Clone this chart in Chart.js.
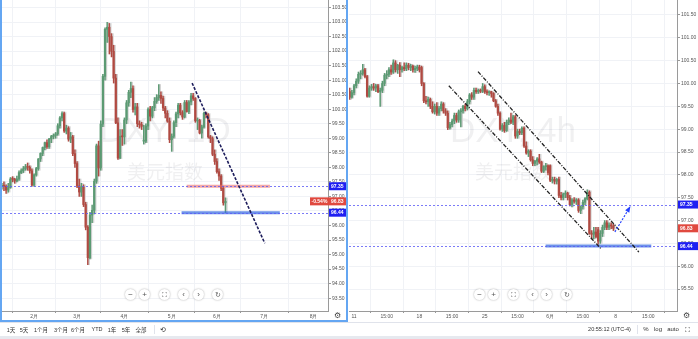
<!DOCTYPE html>
<html><head><meta charset="utf-8">
<script src="https://cdn.jsdelivr.net/npm/chart.js@4.4.1/dist/chart.umd.min.js"></script>
<style>
html,body{margin:0;padding:0;background:#fff;width:698px;height:339px;overflow:hidden;font-family:"Liberation Sans",Arial,sans-serif;}
canvas{position:absolute;top:0;}
#lc{left:2px;}
#rc{left:349px;}
.bd{position:absolute;background:#64a6f2;}
.nb{position:absolute;width:11px;height:11px;border-radius:50%;background:#fff;box-shadow:0 0 2px rgba(0,0,0,0.35);color:#555;font-size:8px;line-height:11px;text-align:center;}
.tb{position:absolute;top:326px;font-size:5.5px;color:#333;white-space:nowrap;transform:translateX(-50%);font-family:"Liberation Sans","Noto Sans CJK SC",sans-serif;}
#toolbar{position:absolute;left:0;top:322px;width:698px;height:14px;border-top:1px solid #e0e3eb;background:#fff;}
#bottomband{position:absolute;left:0;top:336px;width:698px;height:3px;background:#e6e9ef;}
.gear{position:absolute;font-size:8px;color:#444;font-family:"DejaVu Sans";}
.sep{position:absolute;top:325px;width:1px;height:9px;background:#e0e3eb;}
</style>
</head><body>
<canvas id="lc" width="344" height="320"></canvas>
<canvas id="rc" width="349" height="320"></canvas>
<div class="bd" style="left:0;top:0;width:1.5px;height:321px"></div>
<div class="bd" style="left:346px;top:0;width:2px;height:321px"></div>
<div class="bd" style="left:0;top:320px;width:348px;height:1.5px"></div>
<div class="gear" style="left:334px;top:311px">⚙</div>
<div class="gear" style="left:683px;top:311px">⚙</div>

<div class="nb" style="left:125px;top:288.5px">−</div>
<div class="nb" style="left:139px;top:288.5px">+</div>
<div class="nb" style="left:158.5px;top:288.5px;font-size:7px">⛶</div>
<div class="nb" style="left:178px;top:288.5px">‹</div>
<div class="nb" style="left:193px;top:288.5px">›</div>
<div class="nb" style="left:212px;top:288.5px;font-size:7px">↻</div>

<div class="nb" style="left:474px;top:288.5px">−</div>
<div class="nb" style="left:488px;top:288.5px">+</div>
<div class="nb" style="left:508px;top:288.5px;font-size:7px">⛶</div>
<div class="nb" style="left:527px;top:288.5px">‹</div>
<div class="nb" style="left:541px;top:288.5px">›</div>
<div class="nb" style="left:561px;top:288.5px;font-size:7px">↻</div>

<div id="toolbar"></div>
<div id="bottomband"></div>
<div class="tb" style="left:11px">1天</div>
<div class="tb" style="left:24px">5天</div>
<div class="tb" style="left:41px">1个月</div>
<div class="tb" style="left:61px">3个月</div>
<div class="tb" style="left:78px">6个月</div>
<div class="tb" style="left:97px">YTD</div>
<div class="tb" style="left:112px">1年</div>
<div class="tb" style="left:126px">5年</div>
<div class="tb" style="left:141px">全部</div>
<div class="sep" style="left:154px"></div>
<div class="tb" style="left:163px;font-size:7px;font-family:'DejaVu Sans'">⟲</div>
<div class="tb" style="left:609.5px">20:55:12 (UTC-4)</div>
<div class="sep" style="left:637px"></div>
<div class="tb" style="left:646px;font-size:6px">%</div>
<div class="tb" style="left:658px;font-size:6px">log</div>
<div class="tb" style="left:673px;font-size:6px">auto</div>
<div class="tb" style="left:687px;font-size:7px;font-family:'DejaVu Sans'">⛶</div>

<script>
// ---------- LEFT: DXY daily (from 2020-01-13) ----------
const leftStart = '2020-01-13';
const leftOpen  = [97.35,97.37,97.35,97.22,97.30,97.60,97.59,97.53,97.60,97.82,97.88,97.95,98.02,98.00,97.88,
  97.39,97.74,97.96,98.29,98.48,98.68,98.85,98.71,98.98,99.06,99.09,99.15,99.43,99.70,99.85,99.25,99.35,98.97,99.05,98.47,
  98.13,97.36,97.15,97.33,96.72,95.94,94.89,96.36,96.52,97.52,98.74,97.98,99.49,101.13,102.75,102.82,102.50,101.99,101.07,99.53,98.32,99.07,
  99.05,99.63,100.22,100.58,100.71,99.99,100.08,99.50,99.47,98.90,98.90,99.42,99.99,99.76,100.05,100.27,100.40,100.48,100.37,100.04,99.86,99.59,
  98.95,99.07,99.54,99.84,100.14,99.88,99.73,100.23,99.92,100.25,100.46,100.37,99.60,99.61,99.18,99.39,99.86,99.81,99.05,98.99,98.45,
  98.20,97.85,97.70,97.28,96.78];
const leftHigh  = [97.45,97.50,97.40,97.45,97.65,97.68,97.62,97.70,97.88,97.95,98.03,98.10,98.15,98.05,97.95,
  97.78,98.00,98.30,98.50,98.70,98.87,98.95,99.00,99.10,99.15,99.20,99.50,99.75,99.91,99.90,99.45,99.40,99.20,99.10,98.60,
  98.20,97.60,97.45,97.40,96.80,96.00,96.45,96.70,97.60,98.80,98.90,99.60,101.20,102.80,102.99,102.95,102.60,102.20,101.20,99.70,99.30,99.30,
  99.70,100.30,100.65,100.93,100.80,100.20,100.20,99.60,99.55,99.45,99.50,100.05,100.10,100.10,100.40,100.50,100.85,100.60,100.45,100.10,99.95,99.70,
  99.15,99.60,99.90,100.20,100.20,99.95,100.30,100.30,100.30,100.55,100.55,100.40,99.70,99.65,99.45,99.90,99.90,99.85,99.10,99.05,98.60,
  98.30,97.95,97.75,97.35,96.95];
const leftLow   = [97.25,97.20,97.10,97.15,97.28,97.50,97.45,97.50,97.55,97.78,97.82,97.90,97.90,97.80,97.35,
  97.35,97.70,97.90,98.20,98.40,98.60,98.65,98.65,98.85,98.98,99.00,99.10,99.35,99.60,99.20,99.15,98.90,98.85,98.40,98.00,
  97.30,97.00,97.00,96.65,95.85,94.65,94.85,96.10,96.40,97.45,97.70,97.90,99.40,101.00,102.30,101.90,101.80,100.90,99.50,98.27,98.30,98.75,
  98.80,99.50,100.10,100.40,99.90,99.80,99.40,99.35,99.30,98.80,98.85,99.30,99.60,99.70,99.95,100.20,100.30,100.20,99.95,99.70,99.55,98.85,
  98.55,99.00,99.40,99.70,99.80,99.65,99.70,99.90,99.85,100.15,100.30,99.55,99.30,99.15,99.00,99.35,99.70,99.00,98.85,98.40,98.10,
  97.80,97.55,97.20,96.70,96.44];
const leftClose = [97.37,97.35,97.22,97.30,97.60,97.59,97.53,97.60,97.82,97.88,97.95,98.02,98.00,97.88,97.39,
  97.74,97.96,98.29,98.48,98.68,98.85,98.71,98.98,99.06,99.09,99.15,99.43,99.70,99.85,99.25,99.35,98.97,99.05,98.47,98.13,
  97.36,97.15,97.33,96.72,95.94,94.89,96.36,96.52,97.52,98.74,97.98,99.49,101.13,102.75,102.82,102.50,101.99,101.07,99.53,98.32,99.07,99.05,
  99.63,100.22,100.58,100.71,99.99,100.08,99.50,99.47,99.41,98.90,99.42,99.99,99.76,100.05,100.27,100.40,100.48,100.37,100.04,99.86,99.59,98.95,
  99.07,99.54,99.84,100.14,99.88,99.73,100.23,99.92,100.25,100.46,100.37,99.60,99.61,99.18,99.39,99.86,99.81,99.05,98.99,98.45,98.20,
  97.85,97.70,97.28,96.78,96.83];
const leftMonthLabels = ['2月','3月','4月','5月','6月','7月','8月'];
const leftTrendLine = [[88.5,100.9],[122.3,95.39]];
const leftRedLevel  = [86,124.7,97.35];
const leftBlueLevel = [83.6,129.3,96.44];

// ---------- RIGHT: DXY 4h ----------
const rightOpen  = [99.82,99.70,99.80,99.95,100.05,100.20,100.22,100.30,100.15,99.72,99.90,99.93,99.90,99.95,99.82,99.85,100.00,100.18,100.20,100.30,
  100.25,100.45,100.30,100.40,100.30,100.35,100.32,100.40,100.35,100.38,100.30,100.33,100.36,100.35,100.00,99.62,99.60,99.65,99.50,99.38,
  99.50,99.35,99.45,99.55,99.40,99.35,99.03,99.10,99.18,99.30,99.20,99.38,99.40,99.50,99.45,99.60,99.75,99.70,99.85,99.82,
  99.85,99.83,99.93,99.82,99.80,99.82,99.78,99.62,99.50,99.35,99.00,99.08,98.97,99.15,99.20,99.15,99.27,98.85,98.95,98.92,
  99.02,98.63,98.48,98.52,98.33,98.25,98.30,98.35,98.28,98.08,98.18,98.20,98.20,97.88,97.90,97.86,97.90,97.55,97.50,97.58,
  97.60,97.50,97.35,97.45,97.42,97.45,97.22,97.30,97.40,97.48,97.62,96.72,96.70,96.75,96.80,96.55,96.72,96.85,96.95,96.85,
  96.90,96.88];
const rightHigh  = [99.90,99.85,99.98,100.10,100.25,100.28,100.42,100.33,100.18,99.95,99.98,100.00,99.98,99.98,99.90,100.05,100.22,100.28,100.35,100.40,
  100.52,100.50,100.42,100.46,100.38,100.45,100.45,100.44,100.42,100.40,100.38,100.40,100.40,100.38,100.02,99.72,99.70,99.68,99.60,99.55,
  99.58,99.50,99.60,99.58,99.45,99.40,99.15,99.22,99.35,99.35,99.42,99.45,99.52,99.55,99.65,99.78,99.80,99.90,99.90,99.88,
  99.88,100.00,99.97,99.86,99.84,99.83,99.80,99.65,99.55,99.38,99.12,99.15,99.20,99.25,99.35,99.30,99.30,99.00,99.00,99.05,
  99.05,98.72,98.55,98.55,98.40,98.32,98.38,98.45,98.30,98.20,98.25,98.22,98.22,97.95,97.95,97.92,97.95,97.62,97.60,97.65,
  97.62,97.55,97.48,97.50,97.48,97.48,97.32,97.45,97.50,97.67,97.65,96.78,96.85,96.85,96.85,96.78,96.90,97.00,97.00,96.95,
  96.95,96.92];
const rightLow   = [99.65,99.68,99.75,99.90,100.00,100.10,100.18,100.12,99.70,99.70,99.85,99.85,99.82,99.80,99.50,99.80,99.95,100.10,100.15,100.20,
  100.22,100.25,100.22,100.15,100.25,100.28,100.28,100.30,100.28,100.25,100.24,100.28,100.25,99.95,99.58,99.55,99.50,99.45,99.35,99.33,
  99.30,99.30,99.40,99.35,99.30,98.99,99.00,99.05,99.12,99.15,99.15,99.05,99.35,99.40,99.42,99.55,99.65,99.65,99.78,99.78,
  99.80,99.80,99.78,99.75,99.74,99.70,99.60,99.48,99.30,98.98,98.95,98.93,98.95,99.10,99.12,99.10,98.80,98.80,98.88,98.88,
  98.60,98.45,98.40,98.30,98.20,98.20,98.22,98.25,98.05,98.05,98.10,98.00,97.85,97.82,97.80,97.80,97.50,97.45,97.45,97.50,
  97.45,97.32,97.30,97.38,97.35,97.18,97.15,97.25,97.35,97.45,96.70,96.60,96.60,96.62,96.48,96.50,96.65,96.80,96.80,96.80,
  96.82,96.78];
const rightClose = [99.70,99.80,99.95,100.05,100.20,100.22,100.30,100.15,99.72,99.90,99.93,99.90,99.95,99.82,99.85,100.00,100.18,100.20,100.30,100.25,
  100.45,100.30,100.40,100.30,100.35,100.32,100.40,100.35,100.38,100.30,100.33,100.36,100.30,100.00,99.62,99.60,99.65,99.50,99.38,99.50,
  99.35,99.45,99.55,99.40,99.35,99.03,99.10,99.18,99.30,99.20,99.38,99.40,99.50,99.45,99.60,99.75,99.70,99.85,99.82,99.85,
  99.83,99.93,99.82,99.80,99.82,99.78,99.62,99.50,99.35,99.00,99.08,98.97,99.15,99.20,99.15,99.27,98.85,98.95,98.92,99.02,
  98.63,98.48,98.52,98.33,98.25,98.30,98.35,98.28,98.08,98.18,98.20,98.05,97.88,97.90,97.86,97.90,97.55,97.50,97.58,97.60,
  97.50,97.35,97.45,97.42,97.45,97.22,97.30,97.40,97.48,97.62,96.72,96.70,96.75,96.65,96.55,96.72,96.85,96.95,96.85,96.90,
  96.88,96.83];
const rightTickLabels = ['11','15:00','18','15:00','25','15:00','6月','15:00','8','15:00'];
const rightChannelLower = [[45.5,99.95],[115.6,96.37]];
const rightChannelUpper = [[58.9,100.26],[132.7,96.31]];
const rightArrow = [[121.7,96.75],[128.4,97.28]];
const rightBlueLevel = [89.9,138.4,96.44];

// shared levels & tags
const levelLines = [97.35, 96.44];
const lastPrice = 96.83;
const lastChange = '-0.54%';

// ---------- helpers ----------
const UP='#5b9a73', DOWN='#b04a42', SHADOW='#d3d3d3';
Chart.defaults.font.family = '"Liberation Sans", Arial, sans-serif';

function candleSets(O,H,L,C){
  const col = O.map((o,i)=> C[i]>=o ? UP : DOWN);
  return [
    {data:O.map((o,i)=>({x:i,y:[Math.min(o,C[i]),Math.max(o,C[i])]})), backgroundColor:col, barThickness:1.6, minBarLength:1, grouped:false, order:1},
    {data:O.map((o,i)=>({x:i,y:[L[i],H[i]]})), backgroundColor:col, barThickness:0.8, grouped:false, order:2},
    {data:O.map((o,i)=>({x:i+0.5,y:[L[i],H[i]]})), backgroundColor:SHADOW, barThickness:1.6, grouped:false, order:3}
  ];
}

const overlay = {
  id:'overlay',
  beforeDatasetsDraw(chart,args,o){
    const {ctx,chartArea:ca}=chart;
    const cx=(ca.left+ca.right)/2;
    ctx.save();
    ctx.fillStyle='rgba(40,40,60,0.07)';
    ctx.textAlign='center'; ctx.textBaseline='middle';
    ctx.font='35px "Liberation Sans"';
    ctx.fillText(o.wm[0],cx,132);
    ctx.font='19px "Noto Sans CJK SC"';
    ctx.fillText(o.wm[1],cx,172);
    ctx.restore();
  },
  afterDatasetsDraw(chart,args,o){
    const {ctx,chartArea:ca,scales:{x,y}}=chart;
    ctx.save();
    ctx.beginPath(); ctx.rect(ca.left,ca.top,ca.right-ca.left,ca.bottom-ca.top); ctx.clip();
    // thick level segments
    for(const s of o.bands){
      ctx.strokeStyle=s.color; ctx.lineWidth=3; ctx.setLineDash([]);
      ctx.beginPath(); ctx.moveTo(x.getPixelForValue(s.seg[0]),y.getPixelForValue(s.seg[2]));
      ctx.lineTo(x.getPixelForValue(s.seg[1]),y.getPixelForValue(s.seg[2])); ctx.stroke();
    }
    // dotted full-width levels
    ctx.strokeStyle='rgba(90,90,245,0.8)'; ctx.lineWidth=1; ctx.setLineDash([2,2]);
    for(const v of levelLines){
      const py=Math.round(y.getPixelForValue(v))+0.5;
      ctx.beginPath(); ctx.moveTo(ca.left,py); ctx.lineTo(ca.right,py); ctx.stroke();
    }
    // trend lines
    for(const s of o.lines){
      ctx.strokeStyle=s.color; ctx.lineWidth=s.w; ctx.setLineDash(s.dash);
      const x1=x.getPixelForValue(s.p[0][0]), y1=y.getPixelForValue(s.p[0][1]);
      const x2=x.getPixelForValue(s.p[1][0]), y2=y.getPixelForValue(s.p[1][1]);
      ctx.beginPath(); ctx.moveTo(x1,y1); ctx.lineTo(x2,y2); ctx.stroke();
      if(s.arrow){
        const a=Math.atan2(y2-y1,x2-x1); ctx.setLineDash([]); ctx.fillStyle=s.color;
        ctx.beginPath(); ctx.moveTo(x2+2*Math.cos(a),y2+2*Math.sin(a));
        ctx.lineTo(x2-5*Math.cos(a-0.5),y2-5*Math.sin(a-0.5));
        ctx.lineTo(x2-5*Math.cos(a+0.5),y2-5*Math.sin(a+0.5)); ctx.closePath(); ctx.fill();
      }
    }
    ctx.restore();
  },
  afterDraw(chart,args,o){
    const {ctx,chartArea:ca,scales:{y}}=chart;
    ctx.save();
    ctx.font='bold 5px "Liberation Sans"'; ctx.textBaseline='middle';
    const tag=(v,txt,col,x0)=>{
      const py=y.getPixelForValue(v);
      ctx.fillStyle=col; ctx.fillRect(x0,py-4,chart.width-x0,8);
      ctx.fillStyle='#fff'; ctx.textAlign='left'; ctx.fillText(txt,ca.right+3,py+0.3);
    };
    tag(levelLines[0],levelLines[0].toFixed(2),'#1f1ff2',ca.right+1);
    tag(levelLines[1],levelLines[1].toFixed(2),'#1f1ff2',ca.right+1);
    const x0 = o.showChange ? ca.right-18 : ca.right+1;
    tag(lastPrice,lastPrice.toFixed(2),'#e0493f',x0);
    if(o.showChange){ ctx.fillStyle='#fff'; ctx.textAlign='left'; ctx.fillText(lastChange,x0+1.5,y.getPixelForValue(lastPrice)+0.3); }
    ctx.restore();
  }
};

function zeroPad(s){ s.paddingTop=0; s.paddingBottom=0; s.paddingLeft=0; s.paddingRight=0; }

function makeChart(id,O,H,L,C,cfg){
  return new Chart(document.getElementById(id),{
    type:'bar',
    data:{datasets:candleSets(O,H,L,C)},
    options:{
      responsive:false, animation:false, events:[],
      layout:{padding:0},
      plugins:{legend:{display:false},tooltip:{enabled:false},overlay:cfg.overlay},
      scales:{
        x:{type:'linear',min:cfg.xmin,max:cfg.xmax,offset:false,
          afterBuildTicks:s=>{ s.ticks=cfg.xticks.map(t=>({value:t.v})); },
          ticks:{autoSkip:false,maxRotation:0,padding:1,font:{size:5},color:'#555',
            callback:(v)=>{ const t=cfg.xticks.find(t=>Math.abs(t.v-v)<1e-6); return t?t.l:''; }},
          grid:{color:'#f0f2f6',tickLength:2,tickColor:'#999'},
          border:{color:'#9a9a9a'},
          afterFit:s=>{ zeroPad(s); s.height=9; }},
        y:{type:'linear',position:'right',min:cfg.ymin,max:cfg.ymax,
          afterBuildTicks:s=>{ const t=[]; for(let k=cfg.yt[0];k<=cfg.yt[1];k+=5) t.push({value:k/10}); s.ticks=t; },
          ticks:{padding:1,font:{size:5},color:'#555',callback:v=>v.toFixed(2)},
          grid:{color:'#f0f2f6',tickLength:3,tickColor:'#999'},
          border:{color:'#9a9a9a'},
          afterFit:s=>{ zeroPad(s); s.width=cfg.yw; }}
      }
    },
    plugins:[overlay]
  });
}

// left month tick positions from the weekday calendar
function monthStartIndices(startStr,n){
  const [Y,M,D]=startStr.split('-').map(Number);
  const d=new Date(Date.UTC(Y,M-1,D)); let idx=0, prevMonth=d.getUTCMonth(); const out=[];
  while(out.length<n){
    const wd=d.getUTCDay();
    if(wd!==0 && wd!==6){ if(d.getUTCMonth()!==prevMonth){ out.push(idx); prevMonth=d.getUTCMonth(); } idx++; }
    d.setUTCDate(d.getUTCDate()+1);
  }
  return out;
}
const lIdx=monthStartIndices(leftStart,leftMonthLabels.length);

makeChart('lc',leftOpen,leftHigh,leftLow,leftClose,{
  xmin:0.1,xmax:151.7,ymin:93.058,ymax:103.757,yt:[935,1035],yw:18,
  xticks:leftMonthLabels.map((l,i)=>({v:lIdx[i],l})),
  overlay:{wm:['DXY, 1D','美元指数'],showChange:true,
    bands:[{seg:leftRedLevel,color:'rgba(235,110,110,0.6)'},{seg:leftBlueLevel,color:'rgba(60,110,225,0.75)'}],
    lines:[{p:leftTrendLine,color:'#1d1d5c',w:1.6,dash:[3,1.5]}]}
});

makeChart('rc',rightOpen,rightHigh,rightLow,rightClose,{
  xmin:-0.3,xmax:150.2,ymin:95.02,ymax:101.827,yt:[955,1015],yw:21,
  xticks:rightTickLabels.map((l,i)=>({v:2+15*i,l})),
  overlay:{wm:['DXY, 4h','美元指数'],showChange:false,
    bands:[{seg:rightBlueLevel,color:'rgba(60,110,225,0.75)'}],
    lines:[{p:rightChannelLower,color:'#222',w:1.3,dash:[4,1.5,1,1.5]},
           {p:rightChannelUpper,color:'#222',w:1.3,dash:[4,1.5,1,1.5]},
           {p:rightArrow,color:'#2440ff',w:1.2,dash:[2,1.5],arrow:true}]}
});
</script>
</body></html>
